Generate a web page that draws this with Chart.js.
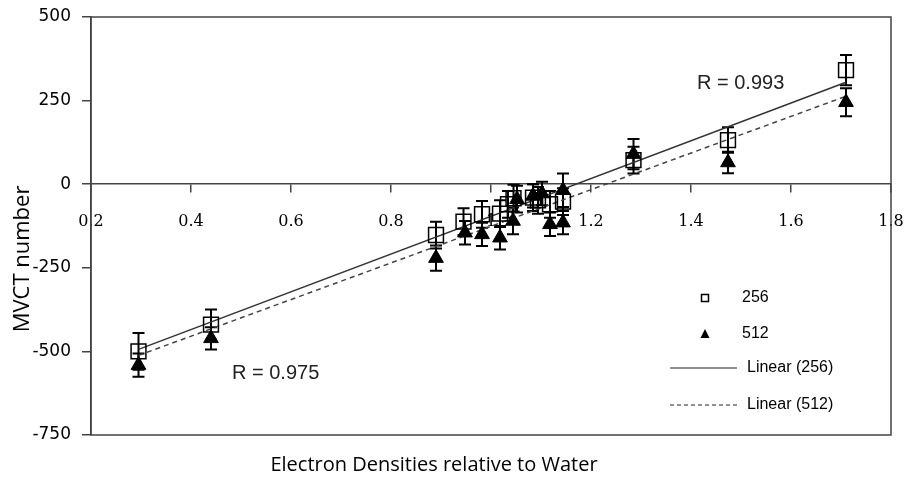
<!DOCTYPE html>
<html>
<head>
<meta charset="utf-8">
<script src="https://cdn.jsdelivr.net/npm/chart.js@4.4.1/dist/chart.umd.min.js"></script>
<style>
  html,body{margin:0;padding:0;background:#fff;}
  #wrap{width:906px;height:477px;}
</style>
</head>
<body>
<div id="wrap"><canvas id="mvct" width="906" height="477"></canvas></div>
<script>
// values
const xs256  = [0.295, 0.44, 0.89, 0.945, 0.982, 1.018, 1.034, 1.045, 1.084, 1.094, 1.118, 1.144, 1.285, 1.474, 1.71];
const ys256  = [-500, -420, -152, -112, -90, -88, -60, -42, -40, -48, -60, -52, 72, 132, 341];
const err256 = [55, 45, 40, 40, 40, 40, 40, 40, 40, 40, 40, 40, 40, 38, 45];

const xs512  = [0.295, 0.44, 0.89, 0.948, 0.982, 1.018, 1.044, 1.052, 1.084, 1.102, 1.118, 1.144, 1.144, 1.285, 1.474, 1.71];
const ys512  = [-541, -461, -221, -145, -150, -160, -110, -45, -35, -28, -120, -115, -18, 90, 65, 245];
const err512 = [35, 33, 38, 35, 35, 35, 40, 40, 35, 35, 35, 35, 50, 45, 32, 42];

// trend line end points
const trendX   = [0.295, 1.71];
const trend256 = [-494, 305];
const trend512 = [-512, 263];

const labels = ['256', '512', 'Linear (256)', 'Linear (512)'];
const rTexts = ['R = 0.993', 'R = 0.975'];
const xTitle = 'Electron Densities relative to Water';
const yTitle = 'MVCT number';

const pts = (xs, ys) => xs.map((x, i) => ({x, y: ys[i]}));

const decor = {
  id: 'decor',
  beforeDatasetsDraw(chart){
    const {ctx, chartArea:a, scales:{x, y}} = chart;
    ctx.save();
    ctx.strokeStyle = '#444'; ctx.lineWidth = 1.5;
    ctx.strokeRect(a.left, a.top, a.right - a.left, a.bottom - a.top);
    // error bars
    ctx.strokeStyle = '#000'; ctx.lineWidth = 2;
    [[xs256, ys256, err256], [xs512, ys512, err512]].forEach(([xs, ys, es])=>{
      xs.forEach((v, i)=>{
        const px = x.getPixelForValue(v);
        const t = y.getPixelForValue(ys[i] + es[i]);
        const b = y.getPixelForValue(ys[i] - es[i]);
        ctx.beginPath();
        ctx.moveTo(px, t); ctx.lineTo(px, b);
        ctx.moveTo(px-6, t); ctx.lineTo(px+6, t);
        ctx.moveTo(px-6, b); ctx.lineTo(px+6, b);
        ctx.stroke();
      });
    });
    ctx.restore();
  },
  afterDraw(chart){
    const ctx = chart.ctx;
    ctx.save();
    ctx.fillStyle = '#000';
    // axis titles
    ctx.font = '20px "Open Sans"';
    ctx.textAlign = 'center'; ctx.textBaseline = 'middle';
    ctx.fillText(xTitle, 434, 465);
    ctx.save();
    ctx.translate(23, 259); ctx.rotate(-Math.PI/2);
    ctx.font = '22px "Open Sans"';
    ctx.fillText(yTitle, 0, 0);
    ctx.restore();
    // R labels
    ctx.font = '20px "Liberation Sans"';
    ctx.textAlign = 'left';
    ctx.fillStyle = '#222';
    ctx.fillText(rTexts[0], 697, 83);
    ctx.fillText(rTexts[1], 232, 373);
    // legend
    ctx.fillStyle = '#000';
    ctx.font = '16px "Liberation Sans"';
    ctx.strokeStyle = '#000'; ctx.lineWidth = 1.5;
    ctx.strokeRect(701.5, 294.5, 7, 7);
    ctx.beginPath();
    ctx.moveTo(705, 329); ctx.lineTo(709.5, 338); ctx.lineTo(700.5, 338); ctx.closePath();
    ctx.fill();
    ctx.fillText(labels[0], 742, 298);
    ctx.fillText(labels[1], 742, 334);
    ctx.strokeStyle = '#222'; ctx.lineWidth = 1.2;
    ctx.beginPath(); ctx.moveTo(670, 368); ctx.lineTo(737, 368); ctx.stroke();
    ctx.setLineDash([4, 3]);
    ctx.beginPath(); ctx.moveTo(670, 405); ctx.lineTo(737, 405); ctx.stroke();
    ctx.setLineDash([]);
    ctx.fillText(labels[2], 747, 368);
    ctx.fillText(labels[3], 747, 405);
    ctx.restore();
  }
};

new Chart(document.getElementById('mvct'), {
  type: 'scatter',
  data: {
    datasets: [
      { label: labels[0], data: pts(xs256, ys256), pointStyle: 'rect', pointRadius: 10.5,
        borderColor: '#000', borderWidth: 1.5, backgroundColor: 'rgba(0,0,0,0)' },
      { label: labels[1], data: pts(xs512, ys512), pointStyle: 'triangle', pointRadius: 8.5,
        borderColor: '#000', borderWidth: 1, backgroundColor: '#000' },
      { label: labels[2], data: pts(trendX, trend256), showLine: true, pointRadius: 0,
        borderColor: '#333', borderWidth: 1.5 },
      { label: labels[3], data: pts(trendX, trend512), showLine: true, pointRadius: 0,
        borderColor: '#444', borderWidth: 1.5, borderDash: [5, 4] }
    ]
  },
  options: {
    responsive: false, animation: false, devicePixelRatio: 1,
    layout: { padding: { top: 17, right: 15, bottom: 42, left: 0 } },
    plugins: { legend: { display: false }, tooltip: { enabled: false } },
    scales: {
      x: {
        type: 'linear', position: { y: 0 }, min: 0.2, max: 1.8,
        ticks: { stepSize: 0.2, padding: 20, color: '#000', maxRotation: 0, autoSkip: false,
          font: { family: 'DejaVu Serif', size: 16 }, callback: v => +v.toFixed(1) },
        grid: { drawOnChartArea: false, tickLength: 8, color: '#444', lineWidth: 1.5 },
        border: { color: '#444', width: 1.5 },
        afterFit: s => { s.paddingLeft = 0; s.paddingRight = 0; }
      },
      y: {
        min: -750, max: 500,
        ticks: { stepSize: 250, padding: 11, color: '#000', font: { family: 'DejaVu Sans', size: 17 } },
        grid: { drawOnChartArea: false, tickLength: 9, color: '#444', lineWidth: 1.5 },
        border: { color: '#444', width: 1.5 },
        afterFit: s => { s.width = 91; s.paddingTop = 0; s.paddingBottom = 0; }
      }
    }
  },
  plugins: [decor]
});
</script>
</body>
</html>
